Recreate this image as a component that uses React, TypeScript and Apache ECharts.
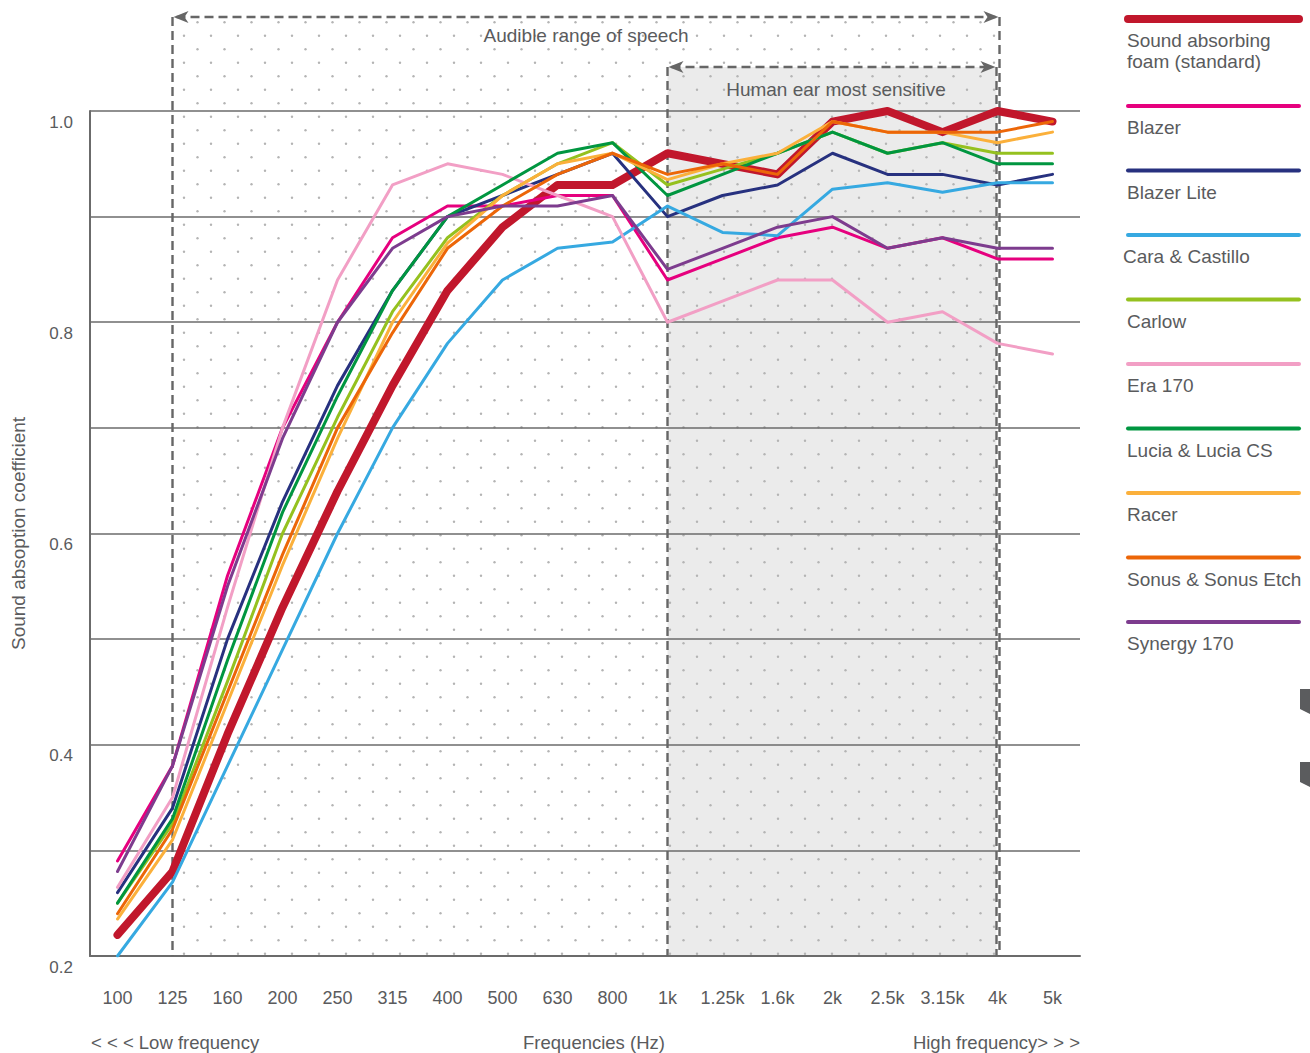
import React, { useEffect, useRef } from "react";
import * as echarts from "echarts";

// ---------- data ----------
const categories = ["100", "125", "160", "200", "250", "315", "400", "500", "630", "800", "1k", "1.25k", "1.6k", "2k", "2.5k", "3.15k", "4k", "5k"];

const seriesNames = [
  "Sound absorbing\nfoam (standard)",
  "Blazer",
  "Blazer Lite",
  "Cara & Castillo",
  "Carlow",
  "Era 170",
  "Lucia & Lucia CS",
  "Racer",
  "Sonus & Sonus Etch",
  "Synergy 170",
];

const seriesColors = ["#c1172c", "#e6007e", "#27317f", "#36a9e1", "#95c11f", "#f29fc5", "#009640", "#fbb03b", "#ec6608", "#7d3c8e"];

const foamStandard = [0.22, 0.28, 0.41, 0.53, 0.64, 0.74, 0.83, 0.89, 0.93, 0.93, 0.96, 0.95, 0.94, 0.99, 1.0, 0.98, 1.0, 0.99];
const blazer = [0.29, 0.38, 0.56, 0.70, 0.80, 0.88, 0.91, 0.91, 0.92, 0.92, 0.84, 0.86, 0.88, 0.89, 0.87, 0.88, 0.86, 0.86];
const blazerLite = [0.26, 0.34, 0.50, 0.63, 0.74, 0.83, 0.90, 0.92, 0.94, 0.96, 0.90, 0.92, 0.93, 0.96, 0.94, 0.94, 0.93, 0.94];
const caraCastillo = [0.20, 0.27, 0.38, 0.49, 0.60, 0.70, 0.78, 0.84, 0.87, 0.876, 0.91, 0.885, 0.882, 0.926, 0.932, 0.923, 0.932, 0.932];
const carlow = [0.25, 0.325, 0.46, 0.60, 0.71, 0.81, 0.88, 0.92, 0.95, 0.97, 0.93, 0.945, 0.96, 0.98, 0.96, 0.97, 0.96, 0.96];
const era170 = [0.265, 0.35, 0.53, 0.70, 0.84, 0.93, 0.95, 0.94, 0.92, 0.90, 0.80, 0.82, 0.84, 0.84, 0.80, 0.81, 0.78, 0.77];
const lucia = [0.25, 0.33, 0.48, 0.62, 0.73, 0.83, 0.90, 0.93, 0.96, 0.97, 0.92, 0.94, 0.96, 0.98, 0.96, 0.97, 0.95, 0.95];
const racer = [0.235, 0.31, 0.44, 0.57, 0.69, 0.80, 0.875, 0.92, 0.95, 0.96, 0.935, 0.95, 0.96, 0.99, 0.98, 0.98, 0.97, 0.98];
const sonus = [0.24, 0.32, 0.45, 0.58, 0.70, 0.79, 0.87, 0.91, 0.94, 0.96, 0.94, 0.95, 0.94, 0.99, 0.98, 0.98, 0.98, 0.99];
const synergy = [0.28, 0.38, 0.55, 0.69, 0.80, 0.87, 0.90, 0.91, 0.91, 0.92, 0.85, 0.87, 0.89, 0.90, 0.87, 0.88, 0.87, 0.87];

const seriesData = [foamStandard, blazer, blazerLite, caraCastillo, carlow, era170, lucia, racer, sonus, synergy];

const yMin = 0.2;
const yMax = 1.0;
const yStep = 0.1;

// ---------- styling ----------
const FONT = "Arial, 'Liberation Sans', Helvetica, sans-serif";
const TEXT = "#5a5b5d";
const RULE = "#6b6b6b";
const DASH = "#666666";

const dotSvg =
  '<svg xmlns="http://www.w3.org/2000/svg" width="27" height="27">' +
  '<circle cx="8.5" cy="22.2" r="1.2" fill="#b4b4b4"/>' +
  '<circle cx="22" cy="8.7" r="1.2" fill="#b4b4b4"/></svg>';
const dotURL = "data:image/svg+xml;charset=utf-8," + encodeURIComponent(dotSvg);

export default function App() {
  const ref = useRef<HTMLDivElement>(null);

  useEffect(() => {
    const el = ref.current;
    if (!el) return;
    const chart = echarts.init(el, null, { renderer: "svg" });

    const series = seriesNames.map((name, i) => ({
      type: "line",
      name,
      data: seriesData[i],
      symbol: "none",
      showSymbol: false,
      silent: true,
      z: 3,
      lineStyle: {
        color: seriesColors[i],
        width: i === 0 ? 8 : 3,
        cap: "round",
        join: "round",
      },
      itemStyle: { color: seriesColors[i] },
    }));

    chart.setOption({
      animation: false,
      backgroundColor: "#ffffff",
      textStyle: { fontFamily: FONT },
      grid: { left: 90, right: 230, top: 111, bottom: 97, containLabel: false },
      xAxis: {
        type: "category",
        data: categories,
        boundaryGap: true,
        axisLine: { show: true, lineStyle: { color: RULE, width: 2 } },
        axisTick: { show: false },
        splitLine: { show: false },
        axisLabel: { interval: 0, color: TEXT, fontSize: 18, fontFamily: FONT, margin: 33 },
      },
      yAxis: {
        type: "value",
        min: yMin,
        max: yMax,
        interval: yStep,
        name: "Sound absoption coefficient",
        nameLocation: "middle",
        nameGap: 62,
        nameTextStyle: { color: TEXT, fontSize: 19, fontFamily: FONT },
        axisLine: { show: true, lineStyle: { color: RULE, width: 2 } },
        axisTick: { show: false },
        splitLine: { show: true, lineStyle: { color: RULE, width: 1.6 } },
        axisLabel: {
          color: TEXT,
          fontSize: 17,
          fontFamily: FONT,
          margin: 17,
          verticalAlign: "top",
          lineHeight: 22,
          formatter: (v: number) => {
            const k = Math.round(v * 10);
            return k % 2 === 0 ? (k / 10).toFixed(1) : "";
          },
        },
      },
      series,
    });

    const px = (c: string) => chart.convertToPixel({ xAxisIndex: 0 }, c) as number;
    const py = (v: number) => chart.convertToPixel({ yAxisIndex: 0 }, v) as number;

    const x125 = px("125");
    const x1k = px("1k");
    const x4k = px("4k");
    const yBottom = py(yMin);
    const yOuter = 17;
    const yInner = 67;
    const outerRight = x4k + 2;
    const innerRight = x4k - 1;

    const dashStyle = { stroke: DASH, lineWidth: 2.4, lineDash: [9, 5] };
    const dline = (x1: number, y1: number, x2: number, y2: number) => ({
      type: "line",
      silent: true,
      z: 1,
      shape: { x1, y1, x2, y2 },
      style: dashStyle,
    });
    const arrow = (tipX: number, y: number, dir: number) => ({
      type: "polygon",
      silent: true,
      z: 1,
      shape: {
        points: [
          [tipX, y],
          [tipX + dir * 15, y - 6],
          [tipX + dir * 11, y],
          [tipX + dir * 15, y + 6],
        ],
      },
      style: { fill: DASH },
    });

    const elements: any[] = [
      {
        type: "rect",
        silent: true,
        z: -10,
        shape: { x: x1k, y: yInner, width: innerRight - x1k, height: yBottom - yInner },
        style: { fill: "#ebebeb" },
      },
      {
        type: "rect",
        silent: true,
        z: -5,
        shape: { x: x125, y: yOuter, width: outerRight - x125, height: yBottom - yOuter },
        style: { fill: { image: dotURL, repeat: "repeat", imageWidth: 27, imageHeight: 27 } },
      },
      dline(x125 + 4, yOuter, outerRight - 4, yOuter),
      dline(x125, yOuter, x125, yBottom),
      dline(outerRight, yOuter, outerRight, yBottom),
      dline(x1k + 4, yInner, innerRight - 4, yInner),
      dline(x1k, yInner, x1k, yBottom),
      dline(innerRight, yInner, innerRight, yBottom),
      arrow(x125 + 1, yOuter, 1),
      arrow(outerRight - 1, yOuter, -1),
      arrow(x1k + 1, yInner, 1),
      arrow(innerRight - 1, yInner, -1),
      {
        type: "text",
        silent: true,
        z: 1,
        x: (x125 + outerRight) / 2,
        y: 35,
        style: { text: "Audible range of speech", fill: TEXT, font: `19px ${FONT}`, align: "center", verticalAlign: "middle" },
      },
      {
        type: "text",
        silent: true,
        z: 1,
        x: (x1k + innerRight) / 2 + 4,
        y: 89,
        style: { text: "Human ear most sensitive", fill: TEXT, font: `19px ${FONT}`, align: "center", verticalAlign: "middle" },
      },
      {
        type: "text",
        silent: true,
        x: 91,
        y: 1042,
        style: { text: "< < < Low frequency", fill: TEXT, font: `18.5px ${FONT}`, align: "left", verticalAlign: "middle" },
      },
      {
        type: "text",
        silent: true,
        x: 594,
        y: 1042,
        style: { text: "Frequencies (Hz)", fill: TEXT, font: `18.5px ${FONT}`, align: "center", verticalAlign: "middle" },
      },
      {
        type: "text",
        silent: true,
        x: 1080,
        y: 1042,
        style: { text: "High frequency> > >", fill: TEXT, font: `18.5px ${FONT}`, align: "right", verticalAlign: "middle" },
      },
      {
        type: "polygon",
        silent: true,
        shape: { points: [[1300, 689], [1310, 689], [1310, 714], [1300, 709]] },
        style: { fill: "#5b5c5e" },
      },
      {
        type: "polygon",
        silent: true,
        shape: { points: [[1300, 762], [1310, 762], [1310, 787], [1300, 782]] },
        style: { fill: "#5b5c5e" },
      },
    ];

    // legend (drawn from the series names/colours)
    let ly = 19;
    seriesNames.forEach((name, i) => {
      const lines = name.split("\n").length;
      elements.push({
        type: "line",
        silent: true,
        shape: { x1: 1128, y1: ly, x2: 1299, y2: ly },
        style: { stroke: seriesColors[i], lineWidth: i === 0 ? 8 : 4, lineCap: "round" },
      });
      elements.push({
        type: "text",
        silent: true,
        x: i === 3 ? 1123 : 1127,
        y: ly + 21.5 + (lines - 1) * 10.5,
        style: {
          text: name,
          fill: TEXT,
          font: `19px ${FONT}`,
          lineHeight: 21,
          align: "left",
          verticalAlign: "middle",
        },
      });
      ly += i === 0 ? 87 : 64.5;
    });

    chart.setOption({ graphic: { elements } });

    return () => chart.dispose();
  }, []);

  return (
    <div
      ref={ref}
      style={{ position: "fixed", left: 0, top: 0, width: 1310, height: 1053, background: "#fff" }}
    />
  );
}
